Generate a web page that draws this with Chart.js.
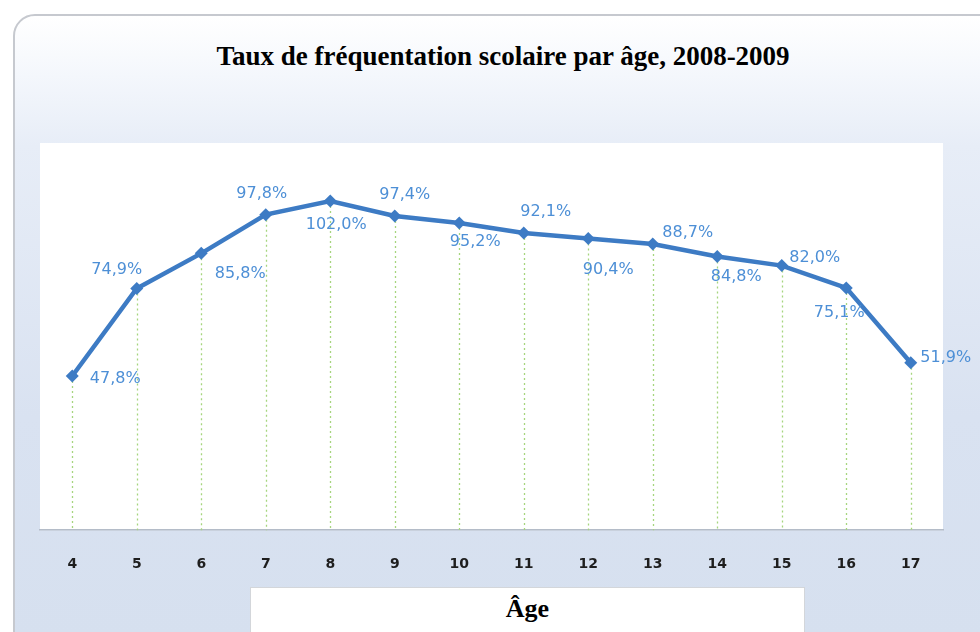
<!DOCTYPE html>
<html>
<head>
<meta charset="utf-8">
<script src="https://cdn.jsdelivr.net/npm/chart.js@4.4.1/dist/chart.umd.min.js"></script>
<style>
  html, body { margin: 0; padding: 0; background: #fff; width: 980px; height: 632px; overflow: hidden; }
  .frame {
    position: absolute; left: 13px; top: 14px; width: 990px; height: 640px;
    border: 2px solid #c6c9cf; border-radius: 22px; box-sizing: border-box;
    background: linear-gradient(to bottom, #ffffff 0px, #f4f7fc 60px, #e7edf7 130px, #d9e2f1 400px, #d6e0ef 620px);
  }
  #chart { position: absolute; left: 0; top: 0; }
  .title {
    position: absolute; left: 0; top: 41px; width: 1006px; text-align: center;
    font: bold 27px "Liberation Serif", "Times New Roman", serif; color: #000;
  }
  .xtitle {
    position: absolute; left: 250px; top: 587px; width: 555px; height: 46px;
    background: #fff; border: 1px solid #d3d6da; box-sizing: border-box;
    text-align: center; font: bold 26px "Liberation Serif", serif; line-height: 42px; color: #000;
  }
</style>
</head>
<body>
<div class="frame"></div>
<div class="title">Taux de fréquentation scolaire par âge, 2008-2009</div>
<canvas id="chart" width="980" height="632"></canvas>
<div class="xtitle">Âge</div>
<script>
const AGES = ['4', '5', '6', '7', '8', '9', '10', '11', '12', '13', '14', '15', '16', '17'];
const RATES = [47.8, 74.9, 85.8, 97.8, 102.0, 97.4, 95.2, 92.1, 90.4, 88.7, 84.8, 82.0, 75.1, 51.9];

// where each value label sits relative to its point (px)
const LABEL_POS = [
    [43, 3], [-20, -19], [39, 20], [-4, -21], [6, 24], [10, -21], [16, 19], [22, -21],
    [20, 31], [35, -11], [19, 20], [33, -8], [-7, 25], [35, -5]
];

const fmt = v => v.toFixed(1).replace('.', ',') + '%';

const plotBg = {
    id: 'plotBg',
    beforeDraw(chart) {
        const { ctx, chartArea: a } = chart;
        ctx.save();
        ctx.fillStyle = '#ffffff';
        ctx.fillRect(a.left, a.top, a.right - a.left, a.bottom - a.top);
        ctx.restore();
    }
};

const dropLines = {
    id: 'dropLines',
    beforeDatasetsDraw(chart) {
        const { ctx, chartArea: a } = chart;
        const pts = chart.getDatasetMeta(0).data;
        ctx.save();
        ctx.strokeStyle = '#a6d57e';
        ctx.lineWidth = 1.3;
        ctx.setLineDash([2, 3]);
        pts.forEach(p => {
            const x = Math.round(p.x) + 0.5;
            ctx.beginPath();
            ctx.moveTo(x, p.y);
            ctx.lineTo(x, a.bottom);
            ctx.stroke();
        });
        ctx.restore();
    }
};

const valueLabels = {
    id: 'valueLabels',
    afterDatasetsDraw(chart) {
        const { ctx } = chart;
        const pts = chart.getDatasetMeta(0).data;
        ctx.save();
        ctx.font = '16px "DejaVu Sans", Verdana, sans-serif';
        ctx.fillStyle = '#4d8fd6';
        ctx.textAlign = 'center';
        ctx.textBaseline = 'middle';
        pts.forEach((p, i) => {
            const [dx, dy] = LABEL_POS[i];
            ctx.fillText(fmt(RATES[i]), p.x + dx, p.y + dy);
        });
        ctx.restore();
    }
};

new Chart(document.getElementById('chart'), {
    type: 'line',
    data: {
        labels: AGES,
        datasets: [{
            data: RATES,
            borderColor: '#3d7bc4',
            backgroundColor: '#3d7bc4',
            borderWidth: 4.5,
            pointStyle: 'rectRot',
            pointRadius: 6.5,
            pointBorderWidth: 0,
            tension: 0
        }]
    },
    options: {
        responsive: false,
        animation: false,
        layout: { padding: { left: 40, right: 37, top: 143, bottom: 33 } },
        plugins: { legend: { display: false }, tooltip: { enabled: false } },
        scales: {
            x: {
                offset: true,
                grid: { display: false, drawTicks: false },
                border: { display: true, color: '#b4bcc8', width: 1.5 },
                ticks: {
                    padding: 26,
                    color: '#1e1e1e',
                    font: { family: '"DejaVu Sans", Verdana, sans-serif', size: 14, weight: 'bold' }
                }
            },
            y: {
                display: false,
                min: 0,
                max: 120
            }
        }
    },
    plugins: [plotBg, dropLines, valueLabels]
});
</script>
</body>
</html>
